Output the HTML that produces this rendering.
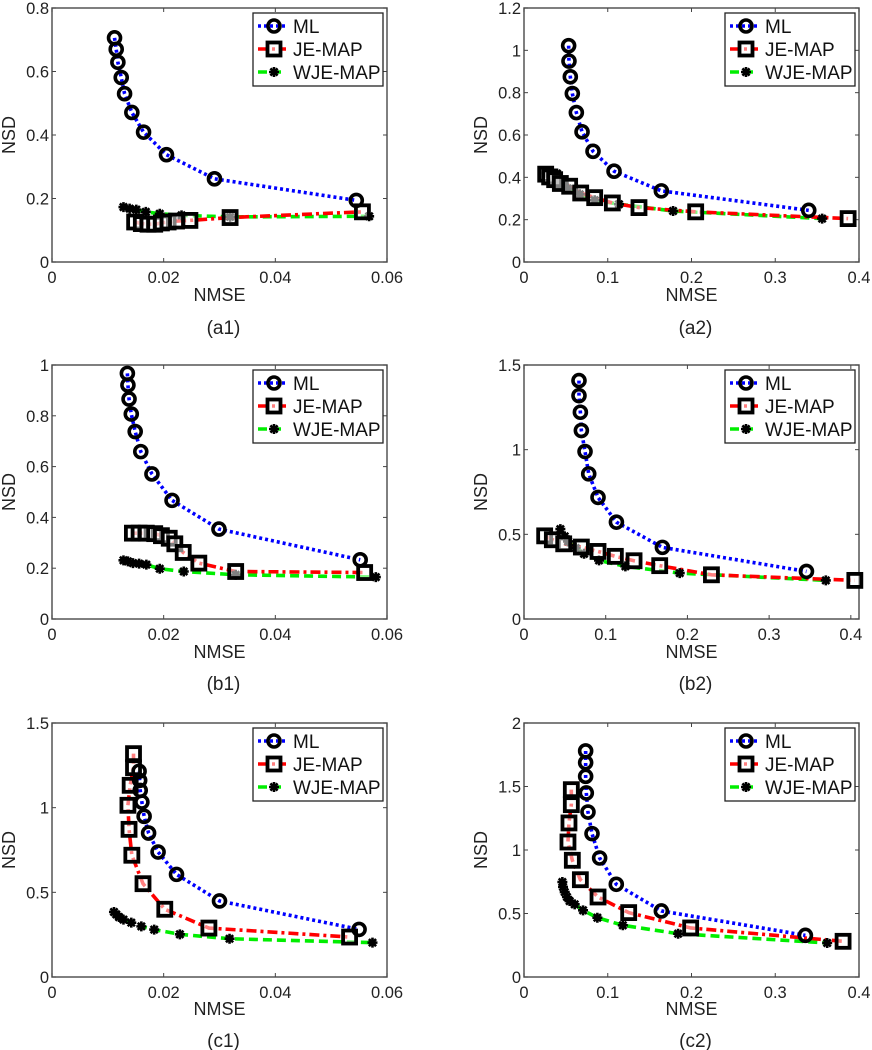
<!DOCTYPE html>
<html><head><meta charset="utf-8"><style>
body{margin:0;background:#fff;width:872px;height:1050px;overflow:hidden}
svg{display:block;font-family:"Liberation Sans",Arial,sans-serif}
</style></head><body>
<svg id="fig" width="872" height="1050" viewBox="0 0 872 1050"></svg>
<script>
// ---- data (a1) ----
const a1_ml_x=[0.0112,0.0115,0.0118,0.0124,0.0130,0.0143,0.0164,0.0205,0.0291,0.0545];
const a1_ml_y=[0.706,0.670,0.629,0.581,0.530,0.471,0.409,0.338,0.262,0.194];
const a1_je_x=[0.0148,0.0160,0.0172,0.0184,0.0196,0.0208,0.0223,0.0247,0.0319,0.0556];
const a1_je_y=[0.126,0.121,0.119,0.119,0.123,0.126,0.129,0.131,0.140,0.158];
const a1_wje_x=[0.0128,0.0139,0.0151,0.0168,0.0193,0.0232,0.0319,0.0568];
const a1_wje_y=[0.173,0.168,0.165,0.158,0.152,0.147,0.142,0.144];
// ---- data (a2) ----
const a2_ml_x=[0.0533,0.0537,0.0553,0.0577,0.0625,0.0693,0.0824,0.1075,0.164,0.340];
const a2_ml_y=[1.022,0.949,0.875,0.796,0.706,0.615,0.523,0.429,0.336,0.244];
const a2_je_x=[0.0259,0.0306,0.0366,0.0434,0.0545,0.0677,0.0844,0.1055,0.1373,0.205,0.387];
const a2_je_y=[0.415,0.402,0.389,0.371,0.358,0.326,0.304,0.279,0.257,0.237,0.205];
const a2_wje_x=[0.0267,0.0326,0.0394,0.0446,0.0525,0.0665,0.0844,0.1134,0.178,0.356];
const a2_wje_y=[0.421,0.410,0.418,0.378,0.347,0.320,0.292,0.273,0.241,0.205];
// ---- data (b1) ----
const b1_ml_x=[0.0135,0.0136,0.0138,0.0142,0.0149,0.0159,0.0179,0.0215,0.0299,0.0552];
const b1_ml_y=[0.967,0.921,0.866,0.807,0.738,0.659,0.571,0.467,0.354,0.233];
const b1_je_x=[0.0144,0.0156,0.0169,0.0184,0.0196,0.0210,0.0220,0.0235,0.0263,0.0329,0.0560];
const b1_je_y=[0.338,0.338,0.338,0.336,0.328,0.318,0.296,0.262,0.220,0.187,0.183];
const b1_wje_x=[0.0128,0.0136,0.0145,0.0156,0.0169,0.0193,0.0236,0.0329,0.0580];
const b1_wje_y=[0.231,0.227,0.220,0.218,0.214,0.198,0.187,0.174,0.165];
// ---- data (b2) ----
const b2_ml_x=[0.0673,0.0673,0.0690,0.0702,0.0747,0.0792,0.0906,0.1131,0.1694,0.3457];
const b2_ml_y=[1.408,1.319,1.221,1.113,0.989,0.857,0.718,0.572,0.423,0.281];
const b2_je_x=[0.0253,0.0347,0.0486,0.0702,0.0906,0.1118,0.1347,0.1661,0.2294,0.4049];
const b2_je_y=[0.491,0.468,0.444,0.425,0.399,0.370,0.344,0.315,0.261,0.228];
const b2_wje_x=[0.0445,0.0498,0.0539,0.0633,0.0735,0.0918,0.1241,0.1906,0.3694];
const b2_wje_y=[0.531,0.488,0.458,0.419,0.385,0.346,0.311,0.271,0.228];
// ---- data (c1) ----
const c1_ml_x=[0.0156,0.0157,0.0158,0.0161,0.0165,0.0173,0.0190,0.0223,0.0300,0.0550];
const c1_ml_y=[1.215,1.161,1.102,1.033,0.949,0.850,0.738,0.606,0.449,0.281];
const c1_je_x=[0.0146,0.0146,0.0140,0.0136,0.0138,0.0143,0.0163,0.0202,0.0281,0.0533];
const c1_je_y=[1.319,1.236,1.132,1.014,0.872,0.719,0.551,0.400,0.289,0.236];
const c1_wje_x=[0.0111,0.0115,0.0120,0.0128,0.0142,0.0160,0.0183,0.0229,0.0318,0.0574];
const c1_wje_y=[0.384,0.370,0.354,0.339,0.321,0.299,0.280,0.252,0.226,0.203];
// ---- data (c2) ----
const c2_ml_x=[0.0736,0.0736,0.0736,0.0744,0.0764,0.0812,0.0903,0.1102,0.164,0.336];
const c2_ml_y=[1.780,1.688,1.580,1.449,1.299,1.129,0.937,0.730,0.520,0.328];
const c2_je_x=[0.0565,0.0565,0.0537,0.0525,0.0577,0.0673,0.0884,0.125,0.199,0.381];
const c2_je_y=[1.475,1.357,1.213,1.063,0.919,0.766,0.630,0.507,0.386,0.281];
const c2_wje_x=[0.0458,0.0466,0.0486,0.0513,0.0545,0.0605,0.0705,0.0876,0.118,0.184,0.362];
const c2_wje_y=[0.748,0.709,0.669,0.630,0.598,0.572,0.525,0.467,0.407,0.341,0.268];
// ticks
const xticksSmall=["0","0.02","0.04","0.06"];
const xticksBig=["0","0.1","0.2","0.3","0.4"];
const yt_a1=["0","0.2","0.4","0.6","0.8"];
const yt_a2=["0","0.2","0.4","0.6","0.8","1","1.2"];
const yt_b1=["0","0.2","0.4","0.6","0.8","1"];
const yt_15=["0","0.5","1","1.5"];
const yt_c2=["0","0.5","1","1.5","2"];
const seriesNames=["ML","JE-MAP","WJE-MAP"];

const NS="http://www.w3.org/2000/svg";
const svg=document.getElementById('fig');
function mk(tag,attrs,parent){const e=document.createElementNS(NS,tag);for(const k in attrs)e.setAttribute(k,attrs[k]);(parent||svg).appendChild(e);return e;}

const panels=[
 {id:'a1',L:52,R:387,T:8,B:262,xmax:0.06,xt:xticksSmall,yt:yt_a1,ml:[a1_ml_x,a1_ml_y],je:[a1_je_x,a1_je_y],wje:[a1_wje_x,a1_wje_y],nm:295,cap:328},
 {id:'a2',L:524,R:859,T:8,B:262,xmax:0.4,xt:xticksBig,yt:yt_a2,ml:[a2_ml_x,a2_ml_y],je:[a2_je_x,a2_je_y],wje:[a2_wje_x,a2_wje_y],nm:295,cap:328},
 {id:'b1',L:52,R:387,T:365,B:619,xmax:0.06,xt:xticksSmall,yt:yt_b1,ml:[b1_ml_x,b1_ml_y],je:[b1_je_x,b1_je_y],wje:[b1_wje_x,b1_wje_y],nm:652,cap:684},
 {id:'b2',L:524,R:859,T:365,B:619,xmax:0.41,xt:xticksBig,yt:yt_15,ml:[b2_ml_x,b2_ml_y],je:[b2_je_x,b2_je_y],wje:[b2_wje_x,b2_wje_y],nm:652,cap:684},
 {id:'c1',L:52,R:387,T:723,B:977,xmax:0.06,xt:xticksSmall,yt:yt_15,ml:[c1_ml_x,c1_ml_y],je:[c1_je_x,c1_je_y],wje:[c1_wje_x,c1_wje_y],nm:1009,cap:1041},
 {id:'c2',L:524,R:859,T:723,B:977,xmax:0.4,xt:xticksBig,yt:yt_c2,ml:[c2_ml_x,c2_ml_y],je:[c2_je_x,c2_je_y],wje:[c2_wje_x,c2_wje_y],nm:1009,cap:1041}
];

function star(g,x,y){
 const s=5;
 mk('path',{d:`M${x-s} ${y}H${x+s}M${x} ${y-s}V${y+s}M${x-3.6} ${y-3.6}L${x+3.6} ${y+3.6}M${x-3.6} ${y+3.6}L${x+3.6} ${y-3.6}`,stroke:'#000','stroke-width':2.6,fill:'none'},g);
}
function circ(g,x,y){mk('circle',{cx:x,cy:y,r:6,fill:'none',stroke:'#000','stroke-width':3.6},g);}
function sq(g,x,y){mk('rect',{x:x-6.5,y:y-6.5,width:13,height:13,fill:'#fff','fill-opacity':0.5,stroke:'#000','stroke-width':3.8},g);}

panels.forEach(p=>{
 const g=mk('g',{});
 
 
 const ymax=parseFloat(p.yt[p.yt.length-1]);
 const sx=v=>p.L+v/p.xmax*(p.R-p.L);
 const sy=v=>p.B-v/ymax*(p.B-p.T);
 const frame=mk('rect',{x:p.L,y:p.T,width:p.R-p.L,height:p.B-p.T,fill:'#fff',stroke:'#555','stroke-width':1.5},g);
 
 
 p.xt.forEach(t=>{
  const v=parseFloat(t),x=sx(v);
  mk('line',{x1:x,y1:p.B,x2:x,y2:p.B-4,stroke:'#444'},g);
  mk('line',{x1:x,y1:p.T,x2:x,y2:p.T+4,stroke:'#444'},g);
  const tx=mk('text',{x:x,y:p.B+21,'text-anchor':'middle','font-size':16.5,fill:'#222'},g);
  tx.textContent=t;
  
  
 });
 p.yt.forEach(t=>{
  const v=parseFloat(t),y=sy(v);
  mk('line',{x1:p.L,y1:y,x2:p.L+4,y2:y,stroke:'#444'},g);
  mk('line',{x1:p.R,y1:y,x2:p.R-4,y2:y,stroke:'#444'},g);
  const tx=mk('text',{x:p.L-3,y:y+6,'text-anchor':'end','font-size':16.5,fill:'#222'},g);
  tx.textContent=t;
  
  
 });
 const xl=mk('text',{x:(p.L+p.R)/2,y:p.nm+6,'text-anchor':'middle','font-size':18,fill:'#222'},g);
 xl.textContent='NMSE';
 
 
 const cy=(p.T+p.B)/2, ylx=p.L-37;
 const yl=mk('text',{x:ylx,y:cy,'text-anchor':'middle','font-size':18,fill:'#222',transform:`rotate(-90 ${ylx} ${cy})`},g);
 yl.textContent='NSD';
 
 
 const cap=mk('text',{x:(p.L+p.R)/2+4,y:p.cap+6,'text-anchor':'middle','font-size':19,fill:'#222'},g);
 cap.textContent='('+p.id+')';
 
 
 const pts=(a)=>a[0].map((x,i)=>sx(x)+','+sy(a[1][i])).join(' ');
 const lw=mk('polyline',{points:pts(p.wje),fill:'none',stroke:'#00ee00','stroke-width':3.6,'stroke-dasharray':'9 5'},g);
 
 
 const lj=mk('polyline',{points:pts(p.je),fill:'none',stroke:'#ff0000','stroke-width':3.6,'stroke-dasharray':'10 4 3 4'},g);
 
 
 const lm=mk('polyline',{points:pts(p.ml),fill:'none',stroke:'#0000ff','stroke-width':3.6,'stroke-dasharray':'3 3'},g);
 
 
 p.wje[0].forEach((x,i)=>star(g,sx(x),sy(p.wje[1][i])));
 p.je[0].forEach((x,i)=>sq(g,sx(x),sy(p.je[1][i])));
 p.ml[0].forEach((x,i)=>circ(g,sx(x),sy(p.ml[1][i])));
 const lx=p.R-134,ly=p.T+5;
 const lg=mk('g',{},g);
 
 
 mk('rect',{x:lx,y:ly,width:130,height:73,fill:'#fff',stroke:'#222','stroke-width':1.3},lg);
 const styles=[['#0000ff','3 3'],['#ff0000','10 4 3 4'],['#00ee00','9 5']];
 seriesNames.forEach((n,i)=>{
  const yy=ly+13+i*23;
  mk('line',{x1:lx+5,y1:yy,x2:lx+33,y2:yy,stroke:styles[i][0],'stroke-width':3.6,'stroke-dasharray':styles[i][1]},lg);
  if(i==0)circ(lg,lx+21,yy);else if(i==1)sq(lg,lx+21,yy);else star(lg,lx+21,yy);
  const t=mk('text',{x:lx+40,y:yy+7,'font-size':19,fill:'#111'},lg);
  t.textContent=n;
  
  
 });
});
</script>
</body></html>
